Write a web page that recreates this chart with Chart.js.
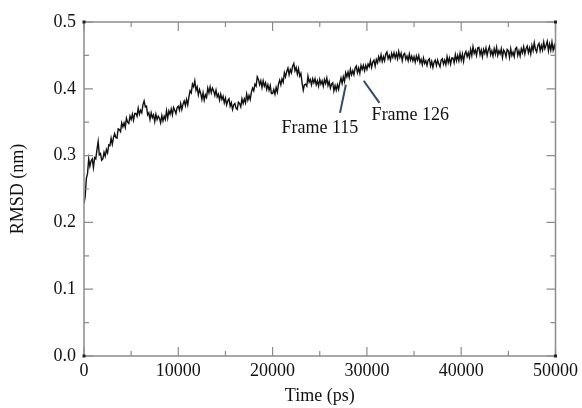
<!DOCTYPE html>
<html>
<head>
<meta charset="utf-8">
<script src="https://cdn.jsdelivr.net/npm/chart.js@4.4.1/dist/chart.umd.min.js"></script>
<style>
  html, body { margin: 0; padding: 0; background: #fff; }
</style>
</head>
<body>
<canvas id="rmsdChart" width="582" height="408"></canvas>
<script>
// RMSD trace, one sample every 125 ps (0 .. 50000 ps), one row = 5000 ps
const sampleStep = 125;
const rmsdValues = [
  0.228,0.239,0.266,0.273,0.295,0.284,0.292,0.295,0.282,0.297,0.295,0.309,0.321,0.301,0.303,0.293,0.295,0.305,0.299,0.309,
  0.304,0.316,0.315,0.326,0.317,0.327,0.333,0.327,0.326,0.340,0.339,0.336,0.349,0.343,0.349,0.342,0.356,0.350,0.348,0.359,
  0.354,0.362,0.353,0.363,0.363,0.359,0.371,0.362,0.368,0.364,0.376,0.382,0.373,0.374,0.361,0.364,0.354,0.364,0.357,0.361,
  0.351,0.362,0.354,0.359,0.356,0.349,0.360,0.352,0.359,0.354,0.367,0.356,0.367,0.362,0.370,0.361,0.372,0.368,0.363,0.372,
  0.374,0.368,0.378,0.369,0.377,0.382,0.375,0.384,0.376,0.388,0.397,0.394,0.407,0.403,0.412,0.398,0.403,0.391,0.399,0.393,
  0.384,0.394,0.383,0.391,0.387,0.401,0.394,0.403,0.394,0.401,0.397,0.390,0.398,0.388,0.392,0.383,0.392,0.384,0.389,0.379,
  0.386,0.376,0.382,0.385,0.374,0.379,0.369,0.376,0.378,0.371,0.369,0.380,0.378,0.373,0.385,0.378,0.385,0.379,0.392,0.383,
  0.390,0.384,0.395,0.401,0.397,0.407,0.404,0.418,0.414,0.406,0.412,0.402,0.412,0.404,0.409,0.399,0.406,0.398,0.405,0.393,
  0.393,0.399,0.392,0.402,0.395,0.407,0.413,0.406,0.415,0.410,0.424,0.418,0.426,0.431,0.421,0.429,0.424,0.434,0.438,0.427,
  0.432,0.422,0.430,0.419,0.423,0.409,0.398,0.406,0.407,0.404,0.419,0.410,0.414,0.406,0.415,0.409,0.415,0.406,0.412,0.404,
  0.414,0.407,0.412,0.404,0.414,0.408,0.416,0.405,0.411,0.401,0.407,0.409,0.397,0.405,0.398,0.406,0.399,0.409,0.416,0.408,
  0.418,0.411,0.424,0.418,0.425,0.417,0.429,0.421,0.427,0.421,0.431,0.434,0.424,0.431,0.423,0.435,0.429,0.435,0.427,0.435,
  0.429,0.437,0.433,0.442,0.432,0.440,0.443,0.434,0.444,0.439,0.448,0.442,0.451,0.441,0.448,0.442,0.452,0.455,0.445,0.450,
  0.443,0.453,0.447,0.454,0.446,0.453,0.445,0.456,0.447,0.453,0.442,0.451,0.453,0.444,0.449,0.442,0.452,0.443,0.449,0.442,
  0.448,0.440,0.449,0.443,0.450,0.439,0.444,0.436,0.446,0.438,0.442,0.435,0.443,0.445,0.434,0.441,0.432,0.440,0.443,0.435,
  0.443,0.437,0.433,0.443,0.445,0.437,0.443,0.436,0.448,0.439,0.446,0.437,0.446,0.446,0.439,0.451,0.442,0.450,0.442,0.453,
  0.443,0.452,0.441,0.452,0.456,0.448,0.454,0.447,0.459,0.450,0.463,0.453,0.458,0.450,0.461,0.462,0.451,0.458,0.448,0.459,
  0.453,0.461,0.450,0.458,0.463,0.451,0.457,0.449,0.460,0.452,0.462,0.450,0.457,0.452,0.460,0.447,0.458,0.455,0.448,0.459,
  0.457,0.447,0.460,0.450,0.455,0.448,0.460,0.462,0.450,0.457,0.449,0.460,0.454,0.463,0.452,0.460,0.464,0.454,0.461,0.452,
  0.465,0.457,0.469,0.459,0.455,0.465,0.468,0.457,0.465,0.458,0.470,0.460,0.465,0.471,0.457,0.467,0.458,0.470,0.458,0.465,
  0.457
];

// annotated frames: label, time pointed at, rmsd there
const frameLabels = ['Frame 115', 'Frame 126'];
const frameTimes = [27770, 29660];
const frameRmsd = [0.406, 0.412];

const serif = '"Liberation Serif", "Times New Roman", serif';

// pointer line ends and label left/middle anchors (data units)
const frameMarks = [
  { x2: 27150, y2: 0.364, tx: 20950, ty: 0.341 },
  { x2: 31330, y2: 0.379, tx: 30500, ty: 0.361 }
];

// box frame with inward ticks on all four sides
const framePlugin = {
  id: 'boxFrame',
  afterDraw(chart) {
    const { ctx, chartArea: a, scales: { x, y } } = chart;
    ctx.save();
    ctx.strokeStyle = '#8c8c8c';
    ctx.lineWidth = 1.5;
    ctx.strokeRect(a.left, a.top, a.right - a.left, a.bottom - a.top);

    ctx.lineWidth = 1.2;
    ctx.beginPath();
    for (let t = 0; t <= 50000; t += 5000) {
      const len = t % 10000 === 0 ? 9 : 5;
      const px = x.getPixelForValue(t);
      ctx.moveTo(px, a.bottom); ctx.lineTo(px, a.bottom - len);
      ctx.moveTo(px, a.top); ctx.lineTo(px, a.top + len);
    }
    for (let i = 0; i <= 10; i++) {
      const len = i % 2 === 0 ? 9 : 5;
      const py = y.getPixelForValue(i * 0.05);
      ctx.moveTo(a.left, py); ctx.lineTo(a.left + len, py);
      ctx.moveTo(a.right, py); ctx.lineTo(a.right - len, py);
    }
    ctx.stroke();

    // small dark squares at the corners
    ctx.fillStyle = '#222';
    [[a.left, a.top], [a.right, a.top], [a.left, a.bottom], [a.right, a.bottom]].forEach(p => {
      ctx.fillRect(p[0] - 1.5, p[1] - 1.5, 3, 3);
    });

    // frame annotations
    ctx.strokeStyle = '#34496a';
    ctx.lineWidth = 2;
    ctx.fillStyle = '#111';
    ctx.font = '18px ' + serif;
    ctx.textBaseline = 'middle';
    ctx.textAlign = 'left';
    frameLabels.forEach((lab, i) => {
      const m = frameMarks[i];
      ctx.beginPath();
      ctx.moveTo(x.getPixelForValue(frameTimes[i]), y.getPixelForValue(frameRmsd[i]));
      ctx.lineTo(x.getPixelForValue(m.x2), y.getPixelForValue(m.y2));
      ctx.stroke();
      ctx.fillText(lab, x.getPixelForValue(m.tx), y.getPixelForValue(m.ty));
    });
    ctx.restore();
  }
};

const ctx = document.getElementById('rmsdChart').getContext('2d');
const rmsdChart = new Chart(ctx, {
  type: 'line',
  data: {
    datasets: [{
      data: rmsdValues.map((v, i) => ({ x: i * sampleStep, y: v })),
      borderColor: '#111',
      borderWidth: 1.4,
      pointRadius: 0,
      tension: 0
    }]
  },
  options: {
    responsive: false,
    animation: false,
    layout: { padding: { top: 22, right: 21, left: 0, bottom: 0 } },
    plugins: { legend: { display: false }, tooltip: { enabled: false } },
    scales: {
      x: {
        type: 'linear',
        min: 0,
        max: 50000,
        afterFit: s => { s.height = 52; },
        grid: { display: false, drawTicks: false },
        border: { display: false },
        ticks: {
          stepSize: 10000,
          padding: 4,
          maxRotation: 0,
          autoSkip: false,
          color: '#111',
          font: { family: serif, size: 18 },
          callback: v => String(v)
        },
        title: {
          display: true,
          text: 'Time (ps)',
          color: '#111',
          font: { family: serif, size: 18 },
          padding: { top: 0, bottom: 1 }
        }
      },
      y: {
        min: 0,
        max: 0.5,
        afterFit: s => { s.width = 84; },
        grid: { display: false, drawTicks: false },
        border: { display: false },
        ticks: {
          stepSize: 0.1,
          padding: 8,
          color: '#111',
          font: { family: serif, size: 18 },
          callback: v => v.toFixed(1)
        },
        title: {
          display: true,
          text: 'RMSD (nm)',
          color: '#111',
          font: { family: serif, size: 18 },
          padding: { top: 7, bottom: 0 }
        }
      }
    }
  },
  plugins: [framePlugin]
});
</script>
</body>
</html>
